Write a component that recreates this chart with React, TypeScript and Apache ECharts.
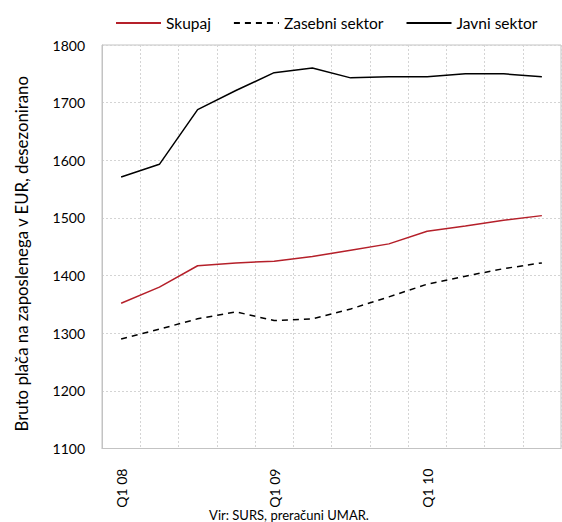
import React, { useEffect, useRef } from "react";
import * as echarts from "echarts";

const categories = [
  "Q1 08", "Q2 08", "Q3 08", "Q4 08",
  "Q1 09", "Q2 09", "Q3 09", "Q4 09",
  "Q1 10", "Q2 10", "Q3 10", "Q4 10",
];
const skupaj = [1352, 1380, 1417, 1422, 1425, 1433, 1444, 1455, 1477, 1486, 1496, 1504];
const zasebni = [1290, 1307, 1325, 1337, 1322, 1325, 1342, 1363, 1385, 1399, 1412, 1422];
const javni = [1571, 1593, 1688, 1721, 1752, 1760, 1743, 1745, 1745, 1750, 1750, 1745];
const yTicks = { min: 1100, max: 1800, interval: 100 };
const seriesNames = ["Skupaj", "Zasebni sektor", "Javni sektor"];
const yTitle = "Bruto plača na zaposlenega v EUR, desezonirano";
const sourceNote = "Vir: SURS, preračuni UMAR.";

const FONT = "Lato";

export default function App() {
  const ref = useRef<HTMLDivElement>(null);
  useEffect(() => {
    if (!ref.current) return;
    const chart = echarts.init(ref.current, undefined, { renderer: "svg" });
    chart.setOption({
      animation: false,
      backgroundColor: "#ffffff",
      textStyle: { fontFamily: FONT, color: "#000" },
      legend: {
        top: 10,
        left: 110,
        itemWidth: 45,
        itemHeight: 10,
        itemGap: 22,
        itemStyle: { opacity: 0 },
        textStyle: { fontFamily: FONT, fontSize: 15.5, color: "#000" },
        data: seriesNames,
      },
      graphic: [
        {
          type: "text",
          x: 289,
          y: 515,
          style: {
            text: sourceNote,
            fontFamily: FONT,
            fontSize: 13,
            fill: "#000",
            align: "center",
            verticalAlign: "middle",
          },
        },
      ],
      grid: {
        left: 102,
        right: 1,
        top: 45,
        bottom: 73.5,
        outerBoundsMode: "none",
        containLabel: false,
        show: true,
        borderColor: "#c3c3c3",
        borderWidth: 1,
      },
      xAxis: {
        type: "category",
        data: categories,
        boundaryGap: true,
        axisLine: { show: true, lineStyle: { color: "#c3c3c3", width: 1 } },
        axisTick: { show: false },
        axisLabel: {
          interval: 3,
          rotate: 90,
          margin: 20,
          fontFamily: FONT,
          fontSize: 14,
          color: "#000",
        },
        splitLine: {
          show: true,
          interval: 0,
          lineStyle: { color: "#d4d4d4", type: [2, 2], width: 1 },
        },
      },
      yAxis: {
        type: "value",
        min: yTicks.min,
        max: yTicks.max,
        interval: yTicks.interval,
        axisLine: { show: true, lineStyle: { color: "#c3c3c3", width: 1 } },
        axisTick: { show: false },
        axisLabel: {
          margin: 17,
          fontFamily: FONT,
          fontSize: 14,
          color: "#000",
          formatter: (v: number) => String(v),
        },
        splitLine: {
          show: true,
          lineStyle: { color: "#d4d4d4", type: [2, 2], width: 1 },
        },
        name: yTitle,
        nameLocation: "middle",
        nameGap: 72,
        nameRotate: 90,
        nameTextStyle: {
          fontFamily: FONT,
          fontSize: 16.8,
          color: "#000",
          padding: [0, 14, 0, 0],
        },
      },
      series: [
        {
          name: seriesNames[0],
          type: "line",
          data: skupaj,
          symbol: "none",
          lineStyle: { color: "#b5202a", width: 1.5 },
          itemStyle: { color: "#b5202a" },
        },
        {
          name: seriesNames[1],
          type: "line",
          data: zasebni,
          symbol: "none",
          lineStyle: { color: "#000", width: 1.5, type: [6, 5] },
          itemStyle: { color: "#000" },
        },
        {
          name: seriesNames[2],
          type: "line",
          data: javni,
          symbol: "none",
          lineStyle: { color: "#000", width: 1.5 },
          itemStyle: { color: "#000" },
        },
      ],
    });
    return () => chart.dispose();
  }, []);
  return (
    <div
      ref={ref}
      style={{ position: "fixed", left: 0, top: 0, width: 562, height: 522 }}
    />
  );
}
